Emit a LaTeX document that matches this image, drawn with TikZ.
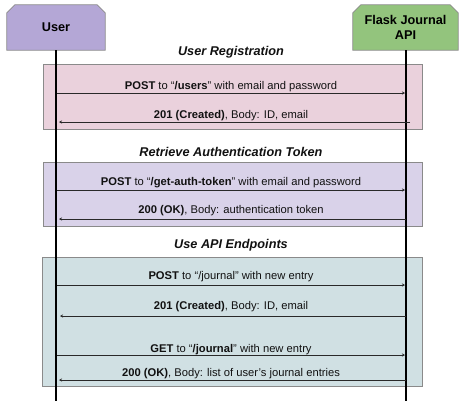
\documentclass[tikz,border=0pt]{standalone}
\usepackage{fontspec}
\setmainfont{Liberation Sans}
\usetikzlibrary{arrows.meta,calc,backgrounds}
\definecolor{userfill}{HTML}{B4A7D6}
\definecolor{apifill}{HTML}{93C47D}
\definecolor{regfill}{HTML}{EAD1DC}
\definecolor{authfill}{HTML}{D9D2E9}
\definecolor{usefill}{HTML}{D0E0E3}
\definecolor{edge}{HTML}{8A8A8A}
\definecolor{ink}{HTML}{111111}
\tikzset{
  actor/.style={rectangle, inner sep=0pt, minimum height=45pt, align=center,
    font=\fontsize{12.7}{15}\selectfont\bfseries, text=black},
  actorshape/.style={draw=edge, line width=0.8pt},
  panel/.style={rectangle, draw=edge, line width=0.8pt, inner sep=0pt},
  phase/.style={font=\fontsize{12.7}{15}\selectfont\bfseries\itshape, text=ink},
  msg/.style={font=\fontsize{11.2}{13}\selectfont, text=ink},
  life/.style={line width=2pt, black},
  call/.style={draw=ink!90, line width=0.8pt, -{Stealth[length=3pt,width=3pt]}}
}
\newcommand{\actoroutline}[2]{%
  \path[actorshape, fill=#2] (#1.south west) -- ($(#1.north west)+(0,8)$) -- ($(#1.north west)+(8,0)$)
    -- ($(#1.north east)+(-8,0)$) -- ($(#1.north east)+(0,8)$) -- (#1.south east) -- cycle;}
\begin{document}
\begin{tikzpicture}[x=1pt,y=-1pt]
\useasboundingbox (0,0) rectangle (474,413);
% panels
\node[panel, fill=regfill, minimum width=379pt, minimum height=65pt] (reg) at (232.5,96.5) {};
\node[panel, fill=authfill, minimum width=379pt, minimum height=64pt] (auth) at (232.5,194) {};
\node[panel, fill=usefill, minimum width=380pt, minimum height=129pt] (use) at (232,321.5) {};
% lifeline ends
\coordinate (uend) at (56,401);
\coordinate (aend) at (406,401);
% actors
\node[actor, minimum width=98pt] (user) at (56,27.5) {User};
\node[actor, minimum width=105pt] (api) at (405.5,27.5) {Flask Journal\\API};
\begin{scope}[on background layer]
  \actoroutline{user}{userfill}
  \actoroutline{api}{apifill}
\end{scope}
\draw[life] (user.south) -- (uend);
\draw[life] (api.south -| aend) -- (aend);
% phase titles
\node[phase] (t1) at (231,52) {User Registration};
\node[phase] (t2) at (231,152) {Retrieve Authentication Token};
\node[phase] (t3) at (231,245) {Use API Endpoints};
% message endpoints
\coordinate (u1) at (57,93);   \coordinate (a1) at (405,93);
\coordinate (a2) at (410,122); \coordinate (u2) at (59,122);
\coordinate (u3) at (57,190);  \coordinate (a3) at (405,190);
\coordinate (a4) at (406,219); \coordinate (u4) at (59,219);
\coordinate (u5) at (57,285);  \coordinate (a5) at (405,285);
\coordinate (a6) at (406,316); \coordinate (u6) at (60,316);
\coordinate (u7) at (57,355);  \coordinate (a7) at (405,355);
\coordinate (a8) at (406,380); \coordinate (u8) at (59,380);
\draw[call] (u1) -- (a1);
\draw[call] (a2) -- (u2);
\draw[call] (u3) -- (a3);
\draw[call] (a4) -- (u4);
\draw[call] (u5) -- (a5);
\draw[call] (a6) -- (u6);
\draw[call] (u7) -- (a7);
\draw[call] (a8) -- (u8);
% labels
\node[msg] (m1) at (231,87) {\textbf{POST} to “\textbf{/users}” with email and password};
\node[msg] (m2) at (231,116) {\textbf{201 (Created)}, Body: ID, email};
\node[msg] (m3) at (231,183) {\textbf{POST} to “\textbf{/get-auth-token}” with email and password};
\node[msg] (m4) at (231,211) {\textbf{200 (OK)}, Body: authentication token};
\node[msg] (m5) at (231,277) {\textbf{POST} to “/journal” with new entry};
\node[msg] (m6) at (231,307) {\textbf{201 (Created)}, Body: ID, email};
\node[msg] (m7) at (231,350) {\textbf{GET} to “\textbf{/journal}” with new entry};
\node[msg] (m8) at (231,374) {\textbf{200 (OK)}, Body: list of user’s journal entries};
\end{tikzpicture}
\end{document}
